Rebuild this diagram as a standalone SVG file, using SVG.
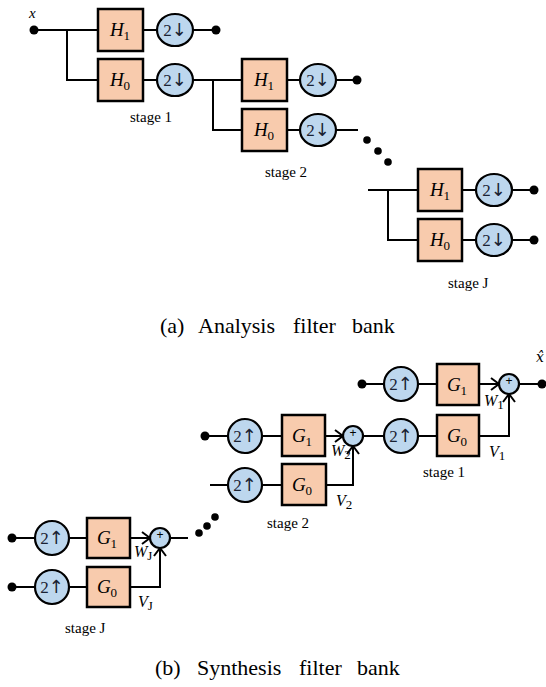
<svg xmlns="http://www.w3.org/2000/svg" width="546" height="687" viewBox="0 0 546 687">
<style>
.box{fill:#F8CBAD;stroke:#000;stroke-width:2.5}
.cir{fill:#BDD7EE;stroke:#000;stroke-width:2.2}
.ln{fill:none;stroke:#000;stroke-width:2}
.arr{fill:none;stroke:#000;stroke-width:2;marker-end:url(#chev)}
.dot{fill:#000}
.t{font-family:"Liberation Serif","Times New Roman",serif;fill:#000}
.lbl{font-family:"Liberation Serif","Times New Roman",serif;font-size:19px;text-anchor:middle;fill:#000}
.sub{font-size:13px;font-style:normal}
.op{font-family:"Liberation Serif","DejaVu Serif",serif;font-size:17px;text-anchor:middle;fill:#1a2233}
.ar{font-family:"DejaVu Sans",sans-serif;font-size:18px}
.stg{font-family:"Liberation Serif","Times New Roman",serif;font-size:15px;fill:#000}
.cap{font-family:"Liberation Serif","Times New Roman",serif;font-size:22px;fill:#000}
.wv{font-family:"Liberation Serif","Times New Roman",serif;font-size:16px;font-style:italic;fill:#000}
.plus{font-family:"Liberation Sans",Arial,sans-serif;font-size:12px;text-anchor:middle;fill:#000}
</style>
<defs>
<marker id="chev" markerUnits="userSpaceOnUse" markerWidth="12" markerHeight="14" refX="9" refY="7" orient="auto">
<path d="M1,1 L9,7 L1,13" fill="none" stroke="#000" stroke-width="2"/>
</marker>
</defs>

<!-- ===== Connectors ===== -->
<g id="connectors">
<path class="ln" d="M34,30 H98 M67,30 V80 H98 M143,30 H157 M193,30 H216 M143,80 H157"/>
<path class="ln" d="M193,80 H242 M213,80 V130 H242 M287,80 H300 M336,80 H357 M287,130 H300 M336,130 H358"/>
<path class="ln" d="M368,190 H418 M388,190 V240 H418 M462,190 H476 M512,190 H534 M462,240 H476 M512,240 H534"/>
<path class="ln" d="M362,384 H384 M418,384 H437 M519,384 H542 M363,436 H384 M418,436 H437"/>
<path class="arr" d="M479,384 H499"/>
<path class="arr" d="M479,436 H509 V394"/>
<path class="ln" d="M205,436 H228 M262,436 H282 M210,485 H228 M262,485 H282"/>
<path class="arr" d="M325,436 H343"/>
<path class="arr" d="M326,485 H353 V446"/>
<path class="ln" d="M12,538 H35 M69,538 H87 M12,587 H35 M69,587 H87 M170,538 H188"/>
<path class="arr" d="M130,538 H150"/>
<path class="arr" d="M130,587 H160 V548"/>
</g>

<g id="dots">
<circle class="dot" cx="34" cy="30" r="4.5"/>
<circle class="dot" cx="216" cy="30" r="4.5"/>
<circle class="dot" cx="357" cy="80" r="4.5"/>
<circle class="dot" cx="534" cy="190" r="4.5"/>
<circle class="dot" cx="534" cy="240" r="4.5"/>
<circle class="dot" cx="367" cy="140" r="3.8"/>
<circle class="dot" cx="378" cy="151" r="3.8"/>
<circle class="dot" cx="388" cy="162" r="3.8"/>
<circle class="dot" cx="362" cy="384" r="4.5"/>
<circle class="dot" cx="542" cy="384" r="4.5"/>
<circle class="dot" cx="205" cy="436" r="4.5"/>
<circle class="dot" cx="12" cy="538" r="4.5"/>
<circle class="dot" cx="12" cy="587" r="4.5"/>
<circle class="dot" cx="199" cy="533" r="3.8"/>
<circle class="dot" cx="207" cy="526" r="3.8"/>
<circle class="dot" cx="215" cy="517" r="3.8"/>
</g>

<!-- ===== Analysis nodes ===== -->
<g id="a1-H1"><rect class="box" x="98" y="9" width="45" height="42"/><text class="lbl" x="120" y="36"><tspan font-style="italic">H</tspan><tspan class="sub" dy="4">1</tspan></text></g>
<g id="a1-H0"><rect class="box" x="98" y="59" width="45" height="42"/><text class="lbl" x="120" y="86"><tspan font-style="italic">H</tspan><tspan class="sub" dy="4">0</tspan></text></g>
<g id="a1-D1"><ellipse class="cir" cx="175" cy="30" rx="18" ry="16"/><text class="op" x="175" y="36">2<tspan class="ar">↓</tspan></text></g>
<g id="a1-D0"><ellipse class="cir" cx="175" cy="80" rx="18" ry="16"/><text class="op" x="175" y="86">2<tspan class="ar">↓</tspan></text></g>

<g id="a2-H1"><rect class="box" x="242" y="59" width="45" height="42"/><text class="lbl" x="264" y="86"><tspan font-style="italic">H</tspan><tspan class="sub" dy="4">1</tspan></text></g>
<g id="a2-H0"><rect class="box" x="242" y="109" width="45" height="42"/><text class="lbl" x="264" y="136"><tspan font-style="italic">H</tspan><tspan class="sub" dy="4">0</tspan></text></g>
<g id="a2-D1"><ellipse class="cir" cx="318" cy="80" rx="18" ry="16"/><text class="op" x="318" y="86">2<tspan class="ar">↓</tspan></text></g>
<g id="a2-D0"><ellipse class="cir" cx="318" cy="130" rx="18" ry="16"/><text class="op" x="318" y="136">2<tspan class="ar">↓</tspan></text></g>

<g id="aJ-H1"><rect class="box" x="418" y="169" width="44" height="42"/><text class="lbl" x="440" y="196"><tspan font-style="italic">H</tspan><tspan class="sub" dy="4">1</tspan></text></g>
<g id="aJ-H0"><rect class="box" x="418" y="219" width="44" height="42"/><text class="lbl" x="440" y="246"><tspan font-style="italic">H</tspan><tspan class="sub" dy="4">0</tspan></text></g>
<g id="aJ-D1"><ellipse class="cir" cx="494" cy="190" rx="18" ry="16"/><text class="op" x="494" y="196">2<tspan class="ar">↓</tspan></text></g>
<g id="aJ-D0"><ellipse class="cir" cx="494" cy="240" rx="18" ry="16"/><text class="op" x="494" y="246">2<tspan class="ar">↓</tspan></text></g>

<g id="analysis-labels">
<text class="t" x="29" y="18" font-size="15" font-style="italic">x</text>
<text class="stg" x="130" y="122">stage 1</text>
<text class="stg" x="265" y="177">stage 2</text>
<text class="stg" x="448" y="288">stage J</text>
<text class="cap" y="333"><tspan x="160">(a)</tspan><tspan x="198">Analysis</tspan><tspan x="293">filter</tspan><tspan x="352">bank</tspan></text>
</g>

<!-- ===== Synthesis nodes ===== -->
<g id="s1-U1"><circle class="cir" cx="401" cy="384" r="17"/><text class="op" x="401" y="390">2<tspan class="ar">↑</tspan></text></g>
<g id="s1-G1"><rect class="box" x="437" y="364" width="42" height="41"/><text class="lbl" x="457" y="391"><tspan font-style="italic">G</tspan><tspan class="sub" dy="4">1</tspan></text></g>
<g id="s1-U0"><circle class="cir" cx="401" cy="436" r="17"/><text class="op" x="401" y="442">2<tspan class="ar">↑</tspan></text></g>
<g id="s1-G0"><rect class="box" x="437" y="415" width="42" height="41"/><text class="lbl" x="457" y="442"><tspan font-style="italic">G</tspan><tspan class="sub" dy="4">0</tspan></text></g>
<g id="s1-sum"><circle class="cir" cx="509" cy="384" r="10"/><text class="plus" x="509" y="385">+</text></g>

<g id="s2-U1"><circle class="cir" cx="245" cy="436" r="17"/><text class="op" x="245" y="442">2<tspan class="ar">↑</tspan></text></g>
<g id="s2-G1"><rect class="box" x="282" y="415" width="43" height="41"/><text class="lbl" x="302" y="442"><tspan font-style="italic">G</tspan><tspan class="sub" dy="4">1</tspan></text></g>
<g id="s2-U0"><circle class="cir" cx="245" cy="485" r="17"/><text class="op" x="245" y="491">2<tspan class="ar">↑</tspan></text></g>
<g id="s2-G0"><rect class="box" x="282" y="464" width="44" height="41"/><text class="lbl" x="302" y="491"><tspan font-style="italic">G</tspan><tspan class="sub" dy="4">0</tspan></text></g>
<g id="s2-sum"><circle class="cir" cx="353" cy="436" r="10"/><text class="plus" x="353" y="437">+</text></g>

<g id="sJ-U1"><circle class="cir" cx="52" cy="538" r="17"/><text class="op" x="52" y="544">2<tspan class="ar">↑</tspan></text></g>
<g id="sJ-G1"><rect class="box" x="87" y="518" width="43" height="40"/><text class="lbl" x="107" y="544"><tspan font-style="italic">G</tspan><tspan class="sub" dy="4">1</tspan></text></g>
<g id="sJ-U0"><circle class="cir" cx="52" cy="587" r="17"/><text class="op" x="52" y="593">2<tspan class="ar">↑</tspan></text></g>
<g id="sJ-G0"><rect class="box" x="87" y="567" width="43" height="40"/><text class="lbl" x="107" y="593"><tspan font-style="italic">G</tspan><tspan class="sub" dy="4">0</tspan></text></g>
<g id="sJ-sum"><circle class="cir" cx="160" cy="538" r="10"/><text class="plus" x="160" y="539">+</text></g>

<g id="synthesis-labels">
<text x="536" y="362" font-family="'DejaVu Serif',serif" font-size="14" font-style="italic">x&#x302;</text>
<text class="wv" x="484" y="406">W<tspan class="sub" font-size="11" dy="3">1</tspan></text>
<text class="wv" x="489" y="457">V<tspan class="sub" font-size="11" dy="3">1</tspan></text>
<text class="wv" x="331" y="456">W<tspan class="sub" font-size="11" dy="3">2</tspan></text>
<text class="wv" x="336" y="506">V<tspan class="sub" font-size="11" dy="3">2</tspan></text>
<text class="wv" x="134" y="557">W<tspan class="sub" font-size="11" dy="3">J</tspan></text>
<text class="wv" x="138" y="607">V<tspan class="sub" font-size="11" dy="3">J</tspan></text>
<text class="stg" x="423" y="477">stage 1</text>
<text class="stg" x="267" y="528">stage 2</text>
<text class="stg" x="65" y="633">stage J</text>
<text class="cap" y="675"><tspan x="155">(b)</tspan><tspan x="197">Synthesis</tspan><tspan x="299">filter</tspan><tspan x="357">bank</tspan></text>
</g>
</svg>
